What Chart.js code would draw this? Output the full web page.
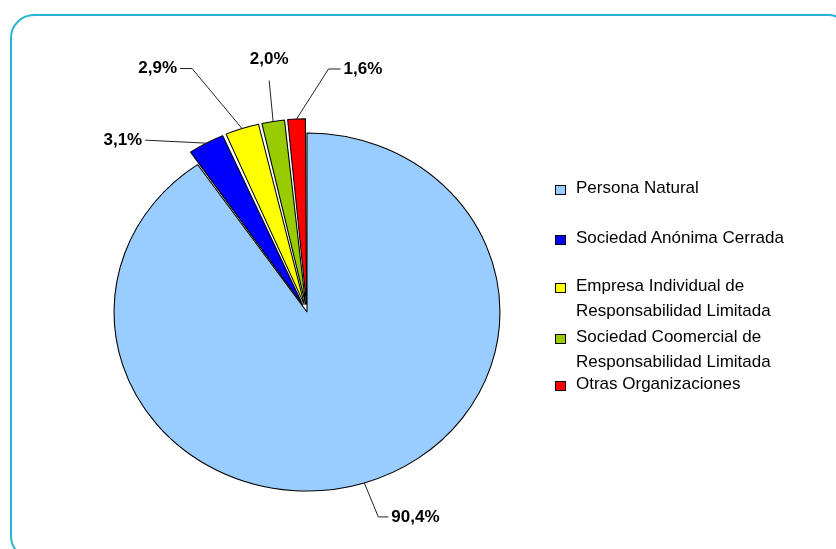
<!DOCTYPE html>
<html>
<head>
<meta charset="utf-8">
<script src="https://cdn.jsdelivr.net/npm/chart.js@4"></script>
<style>
body { margin: 0; background: #fff; overflow: hidden; font-family: "Liberation Sans", Arial, sans-serif; }
#wrap { position: relative; width: 836px; height: 549px; overflow: hidden; }
#frame { position: absolute; left: 10px; top: 14px; width: 842px; height: 546px; border: 2px solid #29b2d4; border-radius: 24px; box-sizing: border-box; }
#chartBox { position: absolute; left: 0; top: 0; width: 836px; height: 549px; }
.item { position: absolute; left: 555px; font-size: 17px; line-height: 25px; color: #000; white-space: pre; }
.item .box { position: absolute; left: 0; top: 10px; width: 11px; height: 10px; border: 1px solid #000; box-sizing: border-box; }
.item .txt { display: block; margin-left: 21px; }
</style>
</head>
<body>
<div id="wrap">
  <div id="frame"></div>
  <div id="chartBox"><canvas id="pieChart"></canvas></div>
  <div id="legend"></div>
</div>
<script>
// data
const categories = [
    "Persona Natural",
    "Sociedad Anónima Cerrada",
    "Empresa Individual de\nResponsabilidad Limitada",
    "Sociedad Coomercial de\nResponsabilidad Limitada",
    "Otras Organizaciones"
];
const shares = [90.4, 3.1, 2.9, 2.0, 1.6];

// styles
const sliceColors = ['#99CCFF', '#0000FF', '#FFFF00', '#99CC00', '#FF0000'];
const sliceOffsets = [0, 31, 31, 30, 30]; // chart.js moves a slice ~offset/2
const stretchX = 1.078; // original pie is slightly wider than tall

// leader line for each label, relative to the slice edge
const labelLayout = [
    { dx: 14, dy: 34, tail: 10, align: 'left' },
    { dx: -61, dy: -3, tail: 0, align: 'right' },
    { dx: -50, dy: -60, tail: -12, align: 'right' },
    { dx: -4, dy: -41, tail: 0, align: 'center' },
    { dx: 32, dy: -50, tail: 12, align: 'left' }
];
// centre of the first text line of each legend entry
const legendTops = [187, 237, 285, 336, 383];

function fmt(v) {
    return v.toFixed(1).replace('.', ',') + '%';
}

// same shift ArcElement.draw applies for an offset
function realShift(offset, circ) {
    const o = offset / 4;
    return o + o * (1 - Math.sin(Math.min(Math.PI, circ)));
}

const ellipsePlugin = {
    id: 'ellipse',
    beforeDatasetsDraw(chart) {
        const arc = chart.getDatasetMeta(0).data[0];
        const ctx = chart.ctx;
        ctx.save();
        ctx.translate(arc.x, arc.y);
        ctx.scale(stretchX, 1);
        ctx.translate(-arc.x, -arc.y);
    },
    afterDatasetsDraw(chart) {
        chart.ctx.restore();
    }
};

const labelPlugin = {
    id: 'sliceLabels',
    afterDraw(chart) {
        const ctx = chart.ctx;
        const meta = chart.getDatasetMeta(0);
        ctx.save();
        ctx.strokeStyle = '#222';
        ctx.lineWidth = 1;
        ctx.fillStyle = '#000';
        ctx.font = 'bold 17px "Liberation Sans", Arial, sans-serif';
        ctx.textBaseline = 'middle';
        meta.data.forEach((arc, i) => {
            const p = arc.getProps(['x', 'y', 'startAngle', 'endAngle', 'outerRadius']);
            const mid = (p.startAngle + p.endAngle) / 2;
            const r = p.outerRadius + realShift(sliceOffsets[i], p.endAngle - p.startAngle);
            const ax = p.x + Math.cos(mid) * r * stretchX;
            const ay = p.y + Math.sin(mid) * r;
            const lay = labelLayout[i];
            const ex = ax + lay.dx, ey = ay + lay.dy;
            const tx = ex + lay.tail;
            ctx.beginPath();
            ctx.moveTo(ax, ay);
            ctx.lineTo(ex, ey);
            if (lay.tail) ctx.lineTo(tx, ey);
            ctx.stroke();
            ctx.textAlign = lay.align;
            if (lay.align === 'left') ctx.fillText(fmt(shares[i]), tx + 3, ey);
            else if (lay.align === 'right') ctx.fillText(fmt(shares[i]), tx - 3, ey);
            else ctx.fillText(fmt(shares[i]), ex, ey - 21);
        });
        ctx.restore();
    }
};

new Chart(document.getElementById('pieChart'), {
    type: 'pie',
    data: {
        labels: categories,
        datasets: [{
            data: shares,
            backgroundColor: sliceColors,
            borderColor: '#000',
            borderWidth: 1,
            offset: sliceOffsets,
            clip: false
        }]
    },
    options: {
        responsive: true,
        maintainAspectRatio: false,
        animation: false,
        radius: 179,
        layout: { padding: { left: 0, right: 222, top: 75, bottom: 0 } },
        plugins: {
            legend: { display: false },
            tooltip: { enabled: false }
        }
    },
    plugins: [ellipsePlugin, labelPlugin]
});

// html legend
const legend = document.getElementById('legend');
categories.forEach((name, i) => {
    const item = document.createElement('div');
    item.className = 'item';
    item.style.top = (legendTops[i] - 12.5) + 'px';
    item.innerHTML = '<span class="box" style="background:' + sliceColors[i] + '"></span>' +
        '<span class="txt"></span>';
    item.querySelector('.txt').textContent = name;
    legend.appendChild(item);
});
</script>
</body>
</html>
